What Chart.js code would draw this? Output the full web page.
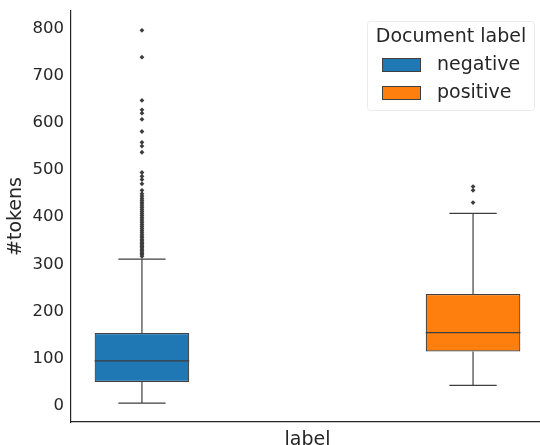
<!DOCTYPE html>
<html>
<head>
<meta charset="utf-8">
<script src="https://cdn.jsdelivr.net/npm/chart.js@4/dist/chart.umd.min.js"></script>
<style>
  html, body { margin: 0; padding: 0; background: #fff; overflow: hidden; }
  #wrap { width: 548px; height: 445px; position: relative; }
</style>
</head>
<body>
<div id="wrap"><canvas id="c"></canvas></div>
<script>
// ---- data ----
const categories = ['negative', 'positive'];
const seriesLabels = ['negative', 'positive'];
const q1 = [50, 115];
const median = [95, 155];
const q3 = [154, 237];
const whiskerLow = [5, 43];
const whiskerHigh = [311, 408];
const outliersNegative = [317, 320, 323, 326, 329, 332, 335, 338, 341, 344, 347, 350, 353, 357, 360, 364,
  368, 372, 376, 380, 384, 388, 392, 396, 400, 404, 408, 412, 416, 420, 424, 428, 432, 436, 440, 445,
  450, 457, 471, 480, 487, 495, 538, 551, 559, 582, 608, 621, 628, 648, 740, 797];
const outliersPositive = [431, 457, 465];
const yTicks = [0, 100, 200, 300, 400, 500, 600, 700, 800];
const yMin = -35, yMax = 838;
const colors = ['#1f77b4', '#ff7f0e'];

const FONT = "'DejaVu Sans', sans-serif";
const TEXT = '#262626';
const EDGE = '#3f3f3f';

const boxDatasets = seriesLabels.map((lab, i) => ({
  type: 'bar',
  label: lab,
  data: categories.map((c, j) => (j === i ? [q1[i], q3[i]] : null)),
  backgroundColor: colors[i],
  borderColor: EDGE,
  borderWidth: 1.2,
  borderSkipped: false,
  categoryPercentage: 0.8,
  barPercentage: 1.0,
  order: 2
}));

// outliers sit at the dodged box centres (category index -0.2 / +0.2)
const outlierSets = [outliersNegative, outliersPositive];
const dodge = [-0.2, 0.2];
const outlierDatasets = outlierSets.map((arr, i) => ({
  type: 'scatter',
  label: '_out' + i,
  parsing: false,
  data: arr.map(v => ({ x: i + dodge[i], y: v })),
  pointStyle: 'rectRot',
  pointRadius: 2.4,
  backgroundColor: '#3d3d3d',
  borderColor: '#3d3d3d',
  borderWidth: 0,
  order: 1
}));

const boxPlugin = {
  id: 'boxparts',
  afterDatasetsDraw(chart) {
    const ctx = chart.ctx;
    const y = chart.scales.y;
    ctx.save();
    ctx.strokeStyle = EDGE;
    ctx.lineWidth = 1.2;
    seriesLabels.forEach((lab, i) => {
      const el = chart.getDatasetMeta(i).data[i];
      if (!el) return;
      const cx = el.x, w = el.width;
      const yLo = y.getPixelForValue(whiskerLow[i]);
      const yHi = y.getPixelForValue(whiskerHigh[i]);
      const yQ1 = y.getPixelForValue(q1[i]);
      const yQ3 = y.getPixelForValue(q3[i]);
      const yMed = y.getPixelForValue(median[i]);
      ctx.beginPath();
      ctx.moveTo(cx, yQ1); ctx.lineTo(cx, yLo);
      ctx.moveTo(cx, yQ3); ctx.lineTo(cx, yHi);
      ctx.moveTo(cx - w / 4, yLo); ctx.lineTo(cx + w / 4, yLo);
      ctx.moveTo(cx - w / 4, yHi); ctx.lineTo(cx + w / 4, yHi);
      ctx.moveTo(cx - w / 2, yMed); ctx.lineTo(cx + w / 2, yMed);
      ctx.stroke();
    });
    ctx.restore();
  }
};

const legendPlugin = {
  id: 'boxlegend',
  afterDraw(chart) {
    const ctx = chart.ctx;
    ctx.save();
    const bx = 367, by = 21, bw = 167, bh = 89;
    ctx.fillStyle = 'rgba(255,255,255,0.8)';
    ctx.strokeStyle = '#ebebeb';
    ctx.lineWidth = 1;
    ctx.beginPath();
    ctx.roundRect(bx + 0.5, by + 0.5, bw, bh, 3);
    ctx.fill(); ctx.stroke();
    ctx.fillStyle = TEXT;
    ctx.textBaseline = 'middle';
    ctx.textAlign = 'center';
    ctx.font = '19px ' + FONT;
    ctx.fillText('Document label', bx + bw / 2 + 0.5, 37);
    ctx.textAlign = 'left';
    seriesLabels.forEach((lab, i) => {
      const ry = 65 + i * 28;
      ctx.fillStyle = colors[i];
      ctx.fillRect(382, ry - 7, 39, 14);
      ctx.strokeStyle = EDGE;
      ctx.lineWidth = 1;
      ctx.strokeRect(382.5, ry - 6.5, 38, 13);
      ctx.fillStyle = TEXT;
      ctx.fillText(lab, 437, ry);
    });
    ctx.restore();
  }
};

new Chart(document.getElementById('c'), {
  data: {
    labels: categories,
    datasets: [...boxDatasets, ...outlierDatasets]
  },
  options: {
    responsive: true,
    maintainAspectRatio: false,
    animation: false,
    layout: { padding: { top: 11, right: 4, left: 0, bottom: 0 } },
    plugins: {
      legend: { display: false },
      tooltip: { enabled: false }
    },
    scales: {
      x: {
        type: 'category',
        offset: true,
        grid: { display: false, drawTicks: false },
        border: { display: true, color: TEXT, width: 1.2 },
        ticks: { display: false },
        title: { display: true, text: 'label', color: TEXT, font: { family: FONT, size: 19, lineHeight: 1 }, padding: { top: 0, bottom: -5 } },
        afterFit(s) { s.height = 23; s.paddingLeft = 0; s.paddingRight = 0; }
      },
      y: {
        type: 'linear',
        min: yMin,
        max: yMax,
        grid: { display: false, drawTicks: false },
        border: { display: true, color: TEXT, width: 1.2 },
        ticks: { color: TEXT, font: { family: FONT, size: 16.5 }, padding: 7 },
        afterBuildTicks(s) { s.ticks = yTicks.map(v => ({ value: v })); },
        title: { display: true, text: '#tokens', color: TEXT, font: { family: FONT, size: 19, lineHeight: 1.2 }, padding: { top: 5, bottom: 0 } },
        afterFit(s) { s.width = 71; s.paddingTop = 0; s.paddingBottom = 0; }
      }
    }
  },
  plugins: [boxPlugin, legendPlugin]
});
</script>
</body>
</html>
